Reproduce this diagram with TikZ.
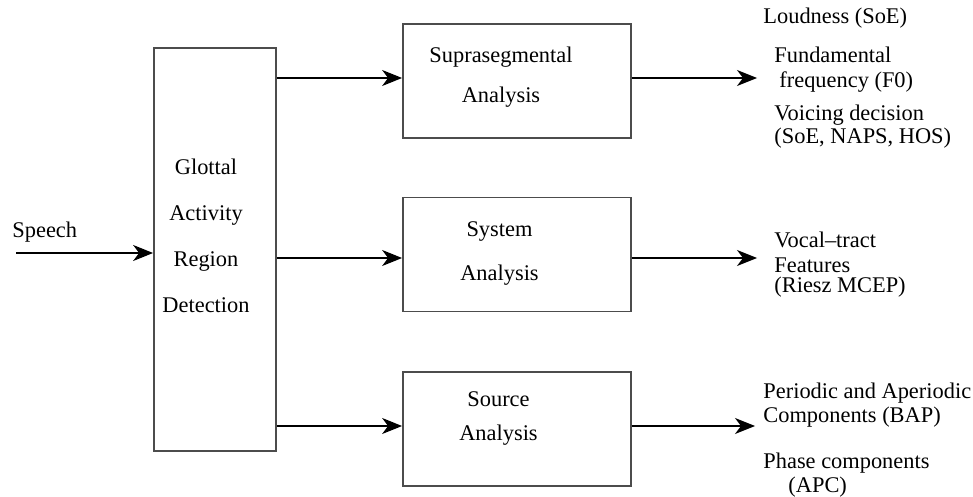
\documentclass[tikz,border=0pt]{standalone}
\usepackage{fontspec}
\setmainfont{Liberation Serif}
\usetikzlibrary{arrows.meta,positioning}

\begin{document}
\begin{tikzpicture}[
  x=0.5pt, y=-0.5pt,
  font=\fontsize{11.2}{13}\selectfont,
  block/.style={rectangle, draw=black!70, line width=0.9pt, inner sep=0pt},
  gardbox/.style={block, minimum width=61pt, minimum height=201.5pt},
  anbox/.style={block, minimum width=114pt, minimum height=57pt},
  intext/.style={inner sep=0pt, align=center, font=\fontsize{11.2}{#1}\selectfont},
  outtext/.style={inner sep=0pt, anchor=west, align=left, font=\fontsize{11.2}{#1}\selectfont},
  arrow/.style={-{Stealth[length=10pt,width=8pt,inset=3pt]}, line width=0.7pt, draw=black}
]
\useasboundingbox (0,0) rectangle (973,497);

\node[gardbox] (gard) at (215,249.5) {};
\node[anbox] (supra) at (517,81) {};
\node[anbox] (system) at (517,254.5) {};
\node[anbox] (source) at (517,429) {};

\node[intext=23pt] (gardtext) at (206,236) {Glottal\\Activity\\Region\\Detection};
\node[intext=20pt] (supratext) at (501,77) {Suprasegmental\\Analysis};
\node[intext=22pt] (systemtext) at (499.5,254) {System\\Analysis};
\node[intext=17pt] (sourcetext) at (498.5,418) {Source\\Analysis};

\node[outtext=13pt] (speech) at (12,232) {Speech};
\node[outtext=13pt] (loud) at (763,18) {Loudness (SoE)};
\node[outtext=12.5pt] (fund) at (774,69.5) {Fundamental\\\hspace*{2.5pt}frequency (F0)};
\node[outtext=10pt] (voice) at (774,126.5) {Voicing decision\\(SoE, NAPS, HOS)};
\node[outtext=12.5pt] (vocal) at (774,264.5) {Vocal--tract\\Features\\[-2.5pt](Riesz MCEP)};
\node[outtext=12pt] (periodic) at (763,405) {Periodic and Aperiodic\\Components (BAP)};
\node[outtext=12pt] (phase) at (763,475) {Phase components\\\hspace*{12.5pt}(APC)};

\coordinate (speechin) at (16,253);
\coordinate (out1) at (757,78);
\coordinate (out2) at (757,258);
\coordinate (out3) at (755,426);

\draw[arrow] (speechin) -- (gard.west |- speechin);
\draw[arrow] (gard.east |- out1) -- (supra.west |- out1);
\draw[arrow] (gard.east |- out2) -- (system.west |- out2);
\draw[arrow] (gard.east |- out3) -- (source.west |- out3);
\draw[arrow] (supra.east |- out1) -- (out1);
\draw[arrow] (system.east |- out2) -- (out2);
\draw[arrow] (source.east |- out3) -- (out3);

\end{tikzpicture}
\end{document}
